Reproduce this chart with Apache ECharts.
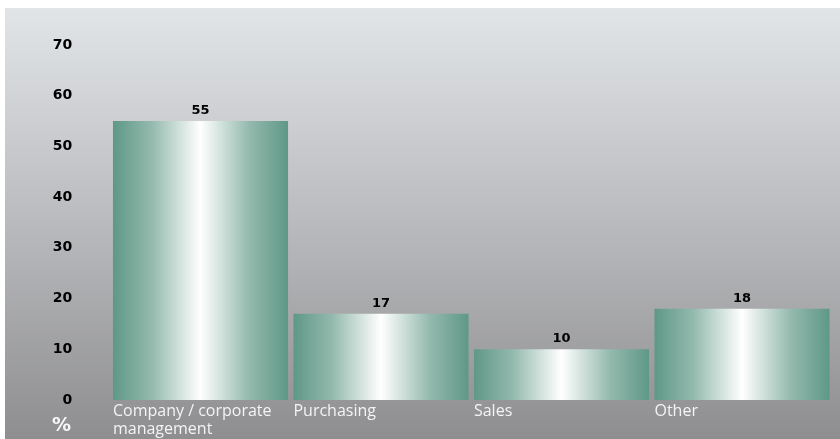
<!DOCTYPE html>
<html>
<head>
<meta charset="utf-8">
<style>
  html, body { margin: 0; padding: 0; background: #ffffff; }
  #chart { width: 840px; height: 439px; }
</style>
<script src="https://cdn.jsdelivr.net/npm/echarts@6/dist/echarts.min.js"></script>
</head>
<body>
<div id="chart"></div>
<script>
// Share of respondents by function (%)
const categories = ['Company / corporate\nmanagement', 'Purchasing', 'Sales', 'Other'];
const shares = [55, 17, 10, 18];
const yTicks = { min: 0, max: 70, interval: 10 };
const unitLabel = '%';

const chart = echarts.init(document.getElementById('chart'), null, { renderer: 'canvas' });

// teal - white - teal sheen across each bar
const barFill = new echarts.graphic.LinearGradient(0, 0, 1, 0, [
  { offset: 0, color: '#5f9886' },
  { offset: 0.22, color: '#93b9ad' },
  { offset: 0.5, color: '#ffffff' },
  { offset: 0.78, color: '#93b9ad' },
  { offset: 1, color: '#5f9886' }
]);

chart.setOption({
  animation: false,
  graphic: [
    {
      type: 'rect',
      z: -10,
      silent: true,
      shape: { x: 5, y: 8, width: 835, height: 431 },
      style: {
        fill: new echarts.graphic.LinearGradient(0, 0, 0, 1, [
          { offset: 0, color: '#e2e5e8' },
          { offset: 0.5, color: '#b9babd' },
          { offset: 1, color: '#8e8e90' }
        ])
      }
    },
    {
      type: 'text',
      left: 52,
      top: 417,
      style: {
        text: unitLabel,
        fill: '#f7f7f7',
        font: 'bold 19px "DejaVu Sans"'
      }
    }
  ],
  grid: { left: 110.25, right: 7.75, top: 45, bottom: 39, containLabel: false },
  xAxis: {
    type: 'category',
    data: categories,
    axisLine: { show: false },
    axisTick: { show: false },
    axisLabel: { show: false }
  },
  yAxis: {
    type: 'value',
    min: yTicks.min,
    max: yTicks.max,
    interval: yTicks.interval,
    splitLine: { show: false },
    axisLine: { show: false },
    axisTick: { show: false },
    axisLabel: {
      margin: 38,
      padding: [0, 0, 5, 0],
      color: '#000000',
      fontFamily: 'DejaVu Sans',
      fontWeight: 'bold',
      fontSize: 14
    }
  },
  series: [
    {
      type: 'bar',
      data: shares,
      barCategoryGap: '3%',
      itemStyle: { color: barFill },
      label: {
        show: true,
        position: 'top',
        distance: 4,
        color: '#000000',
        fontFamily: 'DejaVu Sans',
        fontWeight: 'bold',
        fontSize: 13
      }
    },
    {
      // category names, anchored under the left edge of each bar
      type: 'bar',
      data: shares,
      barGap: '-100%',
      barCategoryGap: '3%',
      silent: true,
      itemStyle: { color: 'rgba(0,0,0,0)' },
      label: {
        show: true,
        position: [0, '100%'],
        offset: [0, 2],
        align: 'left',
        verticalAlign: 'top',
        formatter: (p) => categories[p.dataIndex],
        color: '#f4f4f4',
        fontFamily: 'Open Sans',
        fontSize: 16,
        lineHeight: 18
      }
    }
  ]
});
</script>
</body>
</html>
